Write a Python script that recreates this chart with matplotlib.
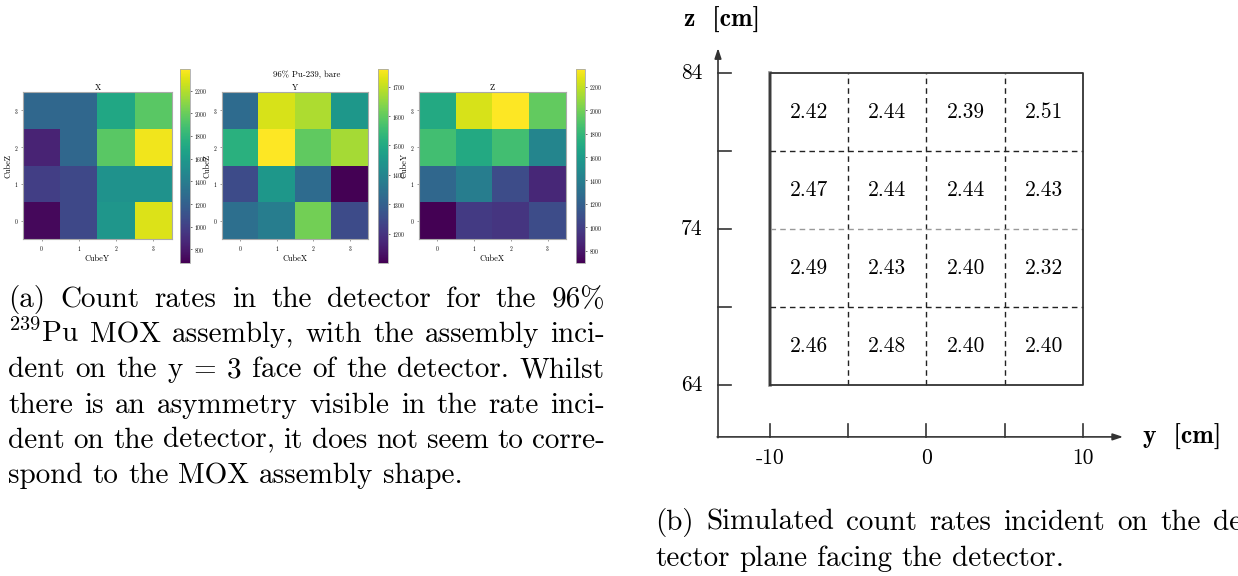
import numpy as np
import matplotlib
matplotlib.use('Agg')
import matplotlib.pyplot as plt

plt.rcParams['mathtext.fontset'] = 'cm'
plt.rcParams['axes.formatter.use_mathtext'] = True
plt.rcParams['font.family'] = 'cmr10'

W, H = 1238, 576

# cube count rates, rows = CubeZ/CubeY 0..3 (bottom to top)
rates_x = np.array([[720, 1050, 1580, 2300],
                    [1000, 1050, 1550, 1550],
                    [850, 1250, 1950, 2350],
                    [1250, 1250, 1700, 1950]])
rates_y = np.array([[1340, 1380, 1620, 1250],
                    [1250, 1450, 1330, 1100],
                    [1520, 1760, 1600, 1670],
                    [1330, 1720, 1680, 1450]])
rates_z = np.array([[700, 980, 950, 1080],
                    [1250, 1400, 1080, 880],
                    [1850, 1700, 1850, 1450],
                    [1700, 2250, 2350, 1950]])
limits_x = (680, 2390)
limits_y = (1100, 1760)
limits_z = (697, 2350)
cbar_ticks_x = [800, 1000, 1200, 1400, 1600, 1800, 2000, 2200]
cbar_ticks_y = [1200, 1300, 1400, 1500, 1600, 1700]
cbar_ticks_z = [800, 1000, 1200, 1400, 1600, 1800, 2000, 2200]

# simulated rates on the plane facing the detector, top row first
sim_rates = [[2.42, 2.44, 2.39, 2.51],
             [2.47, 2.44, 2.44, 2.43],
             [2.49, 2.43, 2.40, 2.32],
             [2.46, 2.48, 2.40, 2.40]]
y_edges = [-10, -5, 0, 5, 10]
z_edges = [64, 69, 74, 79, 84]
z_labels = {64: '64', 74: '74', 84: '84'}
y_labels = {-10: '-10', 0: '0', 10: '10'}

caption_a = ["(a) Count rates in the detector for the 96%",
             "$^{239}$Pu MOX assembly, with the assembly inci-",
             "dent on the y = 3 face of the detector. Whilst",
             "there is an asymmetry visible in the rate inci-",
             "dent on the detector, it does not seem to corre-",
             "spond to the MOX assembly shape."]
caption_b = ["(b) Simulated count rates incident on the de-",
             "tector plane facing the detector."]


def box(x0, y0, x1, y1):
    return [x0 / W, 1 - y1 / H, (x1 - x0) / W, (y1 - y0) / H]


fig = plt.figure(figsize=(W / 100, H / 100), dpi=100)
renderer = fig.canvas.get_renderer()


def heatmap(pos, cpos, data, lims, cticks, title, xlabel, ylabel):
    ax = fig.add_axes(box(*pos))
    im = ax.imshow(data, origin='lower', cmap='viridis', vmin=lims[0], vmax=lims[1],
                   aspect='auto')
    ax.set_xticks(range(4))
    ax.set_yticks(range(4))
    ax.tick_params(labelsize=4, length=1.5, width=0.4, pad=2, color='#555555')
    ax.set_title(title, fontsize=6, pad=1)
    ax.set_xlabel(xlabel, fontsize=6, labelpad=1)
    ax.set_ylabel(ylabel, fontsize=6, labelpad=0.5)
    for s in ax.spines.values():
        s.set_color('#aaaaaa')
        s.set_linewidth(0.8)
    cax = fig.add_axes(box(*cpos))
    cb = fig.colorbar(im, cax=cax, ticks=cticks)
    cb.ax.tick_params(labelsize=4, length=1.5, width=0.4, pad=1.5)
    cb.outline.set_edgecolor('#aaaaaa')
    cb.outline.set_linewidth(0.6)
    return ax


heatmap((23, 92, 172, 239), (180, 69, 190, 263), rates_x, limits_x, cbar_ticks_x,
        'X', 'CubeY', 'CubeZ')
heatmap((222, 92, 368, 239), (378, 69, 388, 263), rates_y, limits_y, cbar_ticks_y,
        'Y', 'CubeX', 'CubeZ')
heatmap((419, 92, 566, 239), (576, 69, 585, 263), rates_z, limits_z, cbar_ticks_z,
        'Z', 'CubeX', 'CubeY')
fig.text(307 / W, 1 - 75 / H, '96% Pu-239, bare', fontsize=6.3, ha='center', va='center')

# detector plane sketch (equal scale, 15.6 px per cm)
ax = fig.add_axes(box(700, 40, 1140, 450))
ax.set_xlim(-14.47, 13.64)
ax.set_ylim(59.83, 86.12)
ax.axis('off')
x_axis_z = 60.67
z_axis_y = -13.32
line_col = '#333333'
ax.annotate('', xy=(12.56, x_axis_z), xytext=(z_axis_y - 0.05, x_axis_z),
            arrowprops=dict(arrowstyle='-|>,head_length=0.6,head_width=0.2',
                            color=line_col, lw=1.2, shrinkA=0, shrinkB=0))
ax.annotate('', xy=(z_axis_y, 85.6), xytext=(z_axis_y, x_axis_z - 0.05),
            arrowprops=dict(arrowstyle='-|>,head_length=0.6,head_width=0.2',
                            color=line_col, lw=1.2, shrinkA=0, shrinkB=0))
for z in z_edges:
    ax.plot([z_axis_y, z_axis_y + 0.83], [z, z], color=line_col, lw=1.2)
    if z in z_labels:
        ax.text(z_axis_y - 1.0, z, z_labels[z], fontsize=15.5, ha='right', va='center')
for y in y_edges:
    ax.plot([y, y], [x_axis_z, x_axis_z + 0.83], color=line_col, lw=1.2)
    if y in y_labels:
        ax.text(y, x_axis_z - 0.75, y_labels[y], fontsize=15.5, ha='center', va='top')

# cell grid
for y in y_edges[1:-1]:
    ax.plot([y, y], [z_edges[0], z_edges[-1]], color='#222222', lw=1.0, ls=(0, (4, 3)))
for z in z_edges[1:-1]:
    c = '#999999' if z == 74 else '#222222'
    ax.plot([y_edges[0], y_edges[-1]], [z, z], color=c, lw=1.0, ls=(0, (4, 3)))
ax.plot([y_edges[0], y_edges[-1], y_edges[-1], y_edges[0], y_edges[0]],
        [z_edges[0], z_edges[0], z_edges[-1], z_edges[-1], z_edges[0]],
        color='#333333', lw=1.3)
ax.plot([y_edges[0], y_edges[0]], [z_edges[0], z_edges[-1]], color='#888888', lw=2.6,
        zorder=1)
for i, row in enumerate(sim_rates):
    zc = (z_edges[-1 - i] + z_edges[-2 - i]) / 2
    for j, v in enumerate(row):
        yc = (y_edges[j] + y_edges[j + 1]) / 2
        ax.text(yc, zc, f'{v:.2f}', fontsize=15.5, ha='center', va='center')

fig.text(722 / W, 1 - 20 / H, 'z  [cm]', fontsize=18.5, family='cmb10', ha='center',
         va='center')
fig.text(1143 / W, 1 - 437 / H, 'y  [cm]', fontsize=18.5, family='cmb10', ha='left',
         va='center')


def set_line(text, x0, x1, base, size, justify=True):
    words = text.split(' ')
    items = []
    for w in words:
        t = fig.text(0, 0, w, fontsize=size, va='baseline', ha='left')
        items.append((t, t.get_window_extent(renderer).width))
    total = sum(wd for _, wd in items)
    if justify and len(items) > 1:
        gap = (x1 - x0 - total) / (len(items) - 1)
    else:
        gap = size * 100 / 72 * 0.333
    x = x0
    for t, wd in items:
        t.set_position((x / W, 1 - base / H))
        x += wd + gap


cap_size = 21
for i, line in enumerate(caption_a):
    set_line(line, 8, 605, 307 + 35.2 * i, cap_size, justify=i < len(caption_a) - 1)
for i, line in enumerate(caption_b):
    set_line(line, 655, 1252, 530 + 36.5 * i, cap_size, justify=i == 0)

fig.savefig('out.png', dpi=100)
